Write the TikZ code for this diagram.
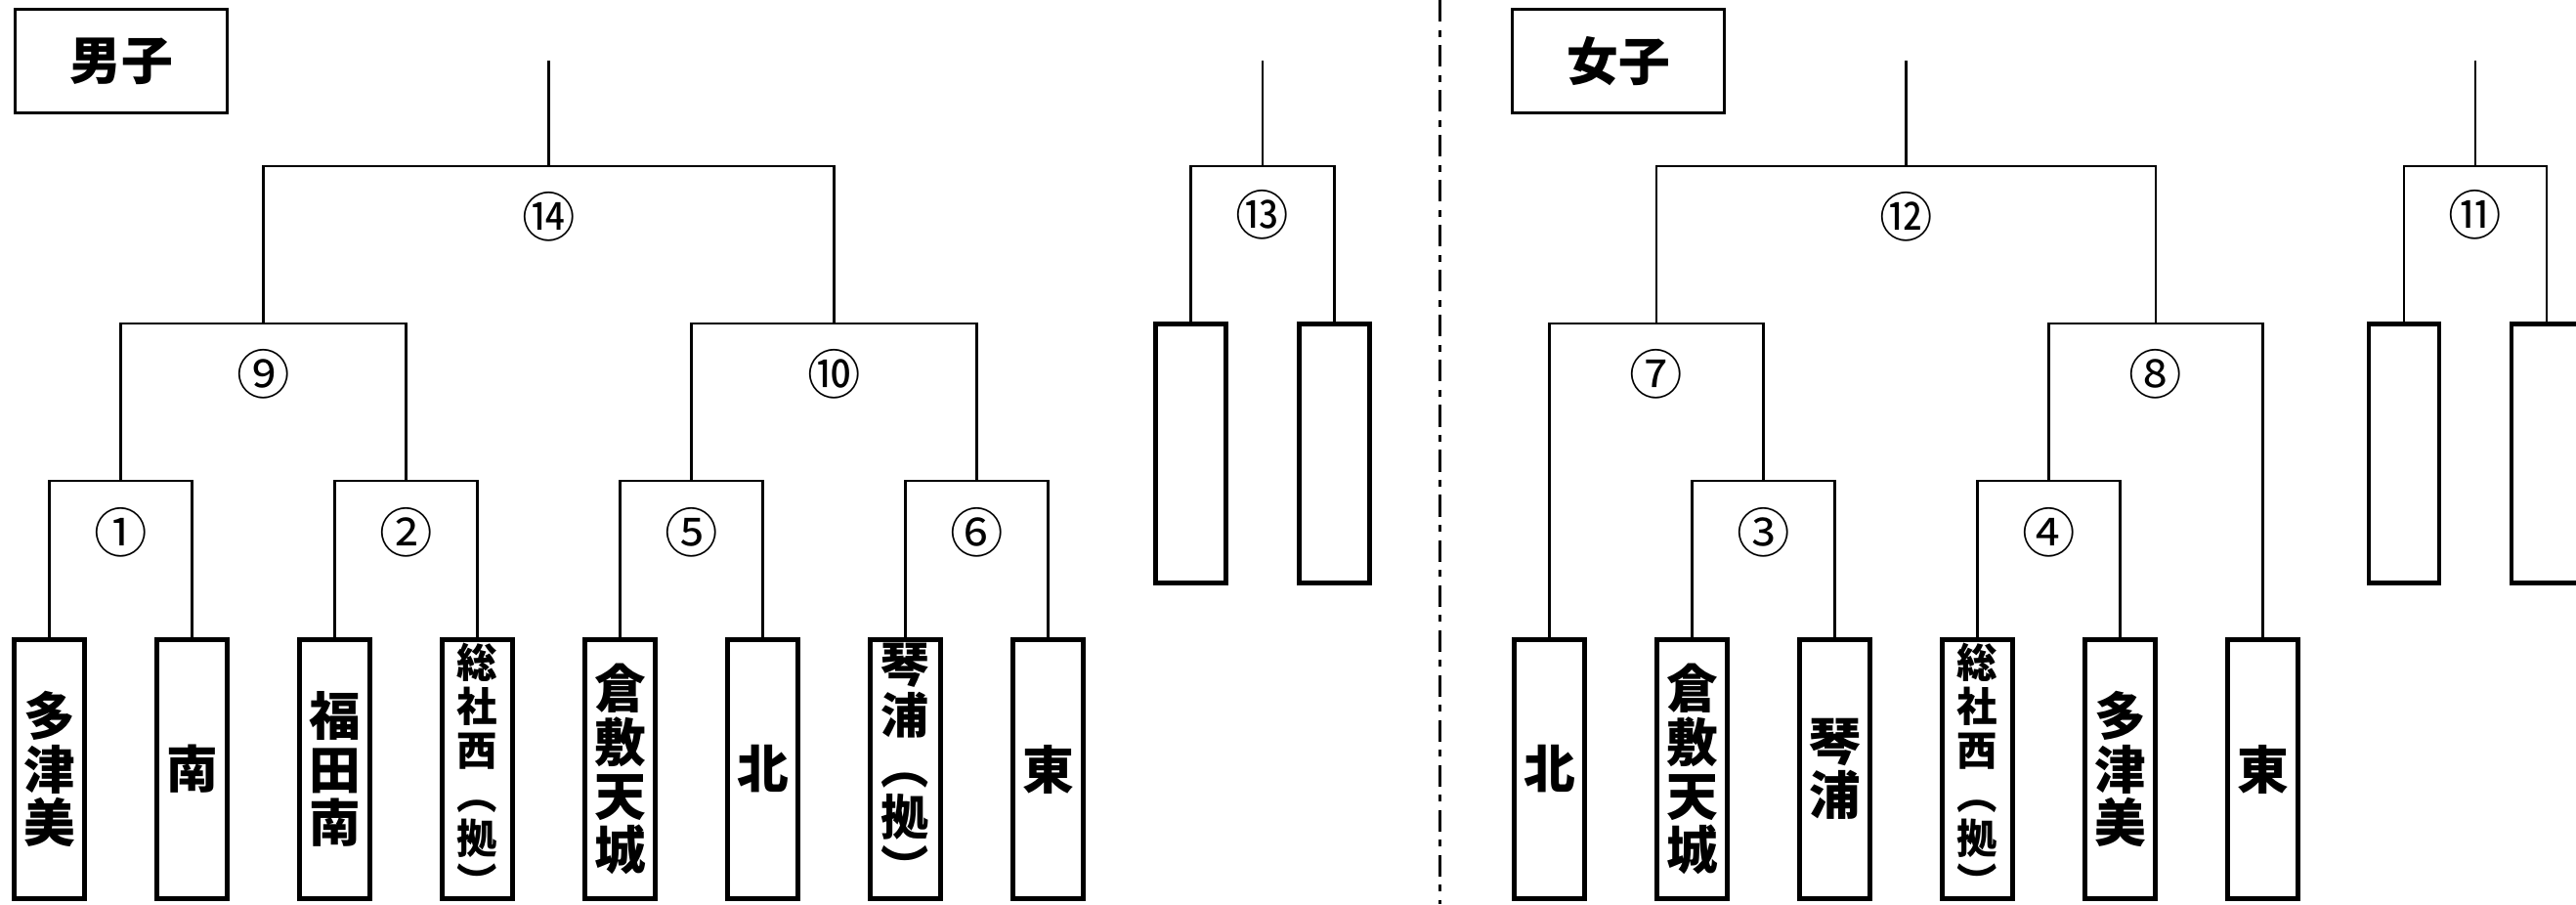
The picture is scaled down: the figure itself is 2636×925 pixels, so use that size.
\documentclass[tikz,border=0pt]{standalone}
\usepackage{fontspec}
\newfontfamily\jpfont{Noto Sans CJK JP}

\begin{document}
\begin{tikzpicture}[x=0.1mm, y=-0.1mm,
    team/.style={rectangle, draw, line width=1.4pt, minimum width=7.2mm, minimum height=26.5mm, inner sep=0pt, align=center, font=\jpfont\bfseries\fontsize{15pt}{15.6pt}\selectfont},
    school/.style={align=center, inner sep=0pt, font=\jpfont\bfseries\fontsize{14pt}{14.8pt}\selectfont},
    small school/.style={align=center, inner sep=0pt, font=\jpfont\bfseries\fontsize{11.8pt}{12.8pt}\selectfont},
    title/.style={rectangle, draw, line width=0.8pt, minimum width=21.7mm, minimum height=10.6mm, font=\jpfont\bfseries\fontsize{15pt}{16pt}\selectfont},
    num/.style={inner sep=0pt, font=\jpfont\fontsize{15.5pt}{16pt}\selectfont},
    bracket/.style={line width=0.7pt},
    divider/.style={line width=0.85pt, dash pattern=on 6.3pt off 2.4pt on 2pt off 2.4pt}
]
    \useasboundingbox (0,0) rectangle (2636,925);
    \clip (0,0) rectangle (2636,925);

    % Maschile
    \node[title] (boys) at (124,62.5) {男子};

    \node[team] (m1) at (50.5,787) {多\\津\\美};
    \node[team] (m2) at (196.5,787) {南};
    \node[team] (m3) at (342.5,787) {福\\田\\南};
    \node[team] (m4) at (488.5,787) {};
    \node[small school, anchor=north] (t4) at ([yshift=-0.5mm]m4.north) {総\\社\\西\\︵\\拠\\︶};
    \node[team] (m5) at (634.5,787) {倉\\敷\\天\\城};
    \node[team] (m6) at (780.5,787) {北};
    \node[team] (m7) at (926.5,787) {};
    \node[school, anchor=north] (t7) at ([yshift=-0.5mm]m7.north) {琴\\浦\\︵\\拠\\︶};
    \node[team] (m8) at (1072.5,787) {東};

    \coordinate (b1) at (123.5,492);
    \coordinate (b2) at (415.5,492);
    \coordinate (b5) at (707.5,492);
    \coordinate (b6) at (999.5,492);
    \draw[bracket] (m1.north) |- (b1) -| (m2.north);
    \draw[bracket] (m3.north) |- (b2) -| (m4.north);
    \draw[bracket] (m5.north) |- (b5) -| (m6.north);
    \draw[bracket] (m7.north) |- (b6) -| (m8.north);
    \node[num] (n1) at ([yshift=-5.3mm]b1) {①};
    \node[num] (n2) at ([yshift=-5.3mm]b2) {②};
    \node[num] (n5) at ([yshift=-5.3mm]b5) {⑤};
    \node[num] (n6) at ([yshift=-5.3mm]b6) {⑥};

    \coordinate (b9) at (269.5,331);
    \coordinate (b10) at (853.5,331);
    \draw[bracket] (b1) |- (b9) -| (b2);
    \draw[bracket] (b5) |- (b10) -| (b6);
    \node[num] (n9) at ([yshift=-5.2mm]b9) {⑨};
    \node[num] (n10) at ([yshift=-5.2mm]b10) {⑩};

    \coordinate (b14) at (561.5,170);
    \coordinate (top14) at (561.5,62);
    \draw[bracket] (b9) |- (b14) -| (b10);
    \draw[bracket] (b14) -- (top14);
    \node[num] (n14) at ([yshift=-5.2mm]b14) {⑭};

    % Finale 13
    \node[team] (x1) at (1218.5,464) {};
    \node[team] (x2) at (1365.5,464) {};
    \coordinate (b13) at (1292,170);
    \coordinate (top13) at (1292,62);
    \draw[bracket] (x1.north) |- (b13) -| (x2.north);
    \draw[bracket] (b13) -- (top13);
    \node[num] (n13) at ([yshift=-5.0mm]b13) {⑬};

    \draw[divider] (1473.5,0) -- (1473.5,925);

    % Femminile
    \node[title] (girls) at (1656,62.5) {女子};

    \node[team] (w1) at (1585.5,787) {北};
    \node[team] (w2) at (1731.5,787) {倉\\敷\\天\\城};
    \node[team] (w3) at (1877.5,787) {琴\\浦};
    \node[team] (w4) at (2023.5,787) {};
    \node[small school, anchor=north] (u4) at ([yshift=-0.5mm]w4.north) {総\\社\\西\\︵\\拠\\︶};
    \node[team] (w5) at (2169.5,787) {多\\津\\美};
    \node[team] (w6) at (2315.5,787) {東};

    \coordinate (b3) at (1804.5,492);
    \coordinate (b4) at (2096.5,492);
    \draw[bracket] (w2.north) |- (b3) -| (w3.north);
    \draw[bracket] (w4.north) |- (b4) -| (w5.north);
    \node[num] (n3) at ([yshift=-5.3mm]b3) {③};
    \node[num] (n4) at ([yshift=-5.3mm]b4) {④};

    \coordinate (b7) at (1695,331);
    \coordinate (b8) at (2206,331);
    \draw[bracket] (w1.north) |- (b7) -| (b3);
    \draw[bracket] (b4) |- (b8) -| (w6.north);
    \node[num] (n7) at ([yshift=-5.2mm]b7) {⑦};
    \node[num] (n8) at ([yshift=-5.2mm]b8) {⑧};

    \coordinate (b12) at (1950.5,170);
    \coordinate (top12) at (1950.5,62);
    \draw[bracket] (b7) |- (b12) -| (b8);
    \draw[bracket] (b12) -- (top12);
    \node[num] (n12) at ([yshift=-5.2mm]b12) {⑫};

    % Finale 11
    \node[team] (y1) at (2460,464) {};
    \node[team] (y2) at (2606,464) {};
    \coordinate (b11) at (2533,170);
    \coordinate (top11) at (2533,62);
    \draw[bracket] (y1.north) |- (b11) -| (y2.north);
    \draw[bracket] (b11) -- (top11);
    \node[num] (n11) at ([yshift=-5.0mm]b11) {⑪};
\end{tikzpicture}
\end{document}
